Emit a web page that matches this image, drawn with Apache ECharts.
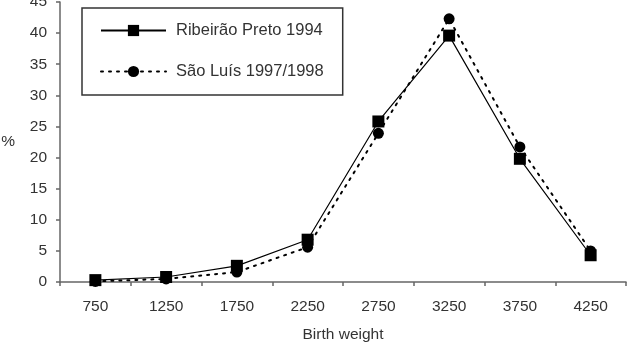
<!DOCTYPE html>
<html><head><meta charset="utf-8">
<script src="https://cdn.jsdelivr.net/npm/echarts@6/dist/echarts.min.js"></script>
<style>html,body{margin:0;padding:0;background:#fff}#c{width:628px;height:350px}</style>
</head><body><div id="c"></div>
<script>
var categories = ['750','1250','1750','2250','2750','3250','3750','4250'];
var ribeirao = [0.3, 0.8, 2.6, 6.8, 25.8, 39.6, 19.8, 4.3];
var saoLuis = [0.1, 0.5, 1.6, 5.6, 23.9, 42.3, 21.7, 5.0];
var yTicks = [0,5,10,15,20,25,30,35,40,45];

var chart = echarts.init(document.getElementById('c'), null, {renderer:'canvas'});
var font = 'Liberation Sans, Arial, sans-serif';
chart.setOption({
  animation:false,
  backgroundColor:'#fff',
  grid:{left:60,right:2,top:2,bottom:68,containLabel:false,outerBoundsMode:'none'},
  legend:{
    orient:'vertical', left:82, top:8,
    borderColor:'#333', borderWidth:1.5,
    padding:[14,19,15,18], itemGap:24,
    itemWidth:65, itemHeight:14,
    textStyle:{fontFamily:font,fontSize:16.5,color:'#333',padding:[0,0,0,5]},
    data:[
      {name:'Ribeirão Preto 1994'},
      {name:'São Luís 1997/1998'}
    ]
  },
  xAxis:{
    type:'category', data:categories, boundaryGap:true,
    name:'Birth weight', nameLocation:'middle', nameGap:45,
    nameTextStyle:{fontFamily:font,fontSize:15.5,color:'#333'},
    axisLine:{lineStyle:{color:'#666',width:1.5}},
    axisTick:{show:true,inside:false,length:4,lineStyle:{color:'#666',width:1.5}},
    axisLabel:{fontFamily:font,fontSize:15.5,color:'#333',margin:17}
  },
  yAxis:{
    type:'value', min:0, max:45, interval:5,
    name:'%', nameLocation:'middle', nameGap:45, nameRotate:0,
    nameTextStyle:{fontFamily:font,fontSize:15.5,color:'#333'},
    axisLine:{show:true,lineStyle:{color:'#666',width:1.5}},
    axisTick:{show:true,length:4,lineStyle:{color:'#666',width:1.5}},
    axisLabel:{fontFamily:font,fontSize:15.5,color:'#333',margin:13,
      formatter:function(v){return yTicks.indexOf(v)>=0?String(v):'';}},
    splitLine:{show:false}
  },
  series:[
    {name:'São Luís 1997/1998', type:'line', data:saoLuis, z:2,
     symbol:'circle', symbolSize:11,
     itemStyle:{color:'#000'},
     lineStyle:{color:'#000',width:2,type:[2,6],cap:'round'}},
    {name:'Ribeirão Preto 1994', type:'line', data:ribeirao, z:3,
     symbol:'rect', symbolSize:12,
     itemStyle:{color:'#000'},
     lineStyle:{color:'#000',width:1.2,type:'solid'}}
  ]
});
</script></body></html>
